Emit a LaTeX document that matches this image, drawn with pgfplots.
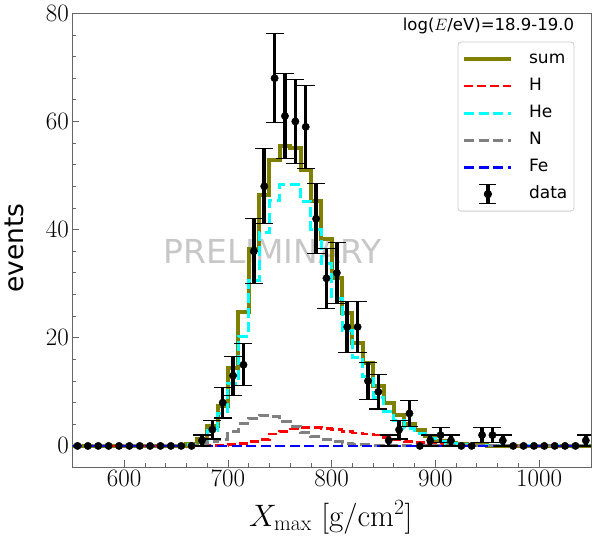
\RequirePackage{fix-cm}
\documentclass[border=0pt]{standalone}
\usepackage{fontspec}
\usepackage{pgfplots}
\pgfplotsset{compat=1.18}
\newfontfamily\dejavu{DejaVu Sans}
\definecolor{olivec}{rgb}{0.5,0.5,0}
\definecolor{grayc}{rgb}{0.5,0.5,0.5}
\definecolor{cyanc}{rgb}{0,1,1}
\definecolor{redc}{rgb}{1,0,0}
\definecolor{bluec}{rgb}{0,0,1}

\pgfplotstableread{
x y
550 0
660 0.3
670 1.2
680 3.65
690 7.3
700 14.5
710 24.85
720 36.4
730 46.4
740 52.9
750 55.5
760 55.0
770 51.1
780 45.2
790 38.2
800 31.0
810 24.6
820 19.1
830 15.3
840 11.0
850 7.85
860 5.8
870 4.1
880 2.9
890 1.75
900 1.0
910 0.55
920 0.35
930 0.15
940 0.1
950 0.05
960 0
1050 0
}\sumtab

\pgfplotstableread{
x y
550 0
680 0.05
690 0.1
700 0.2
710 0.45
720 0.8
730 1.2
740 2.2
750 2.7
760 3.1
770 3.4
780 3.4
790 3.2
800 3.0
810 2.7
820 2.4
830 2.2
840 2.0
850 1.5
860 1.1
870 0.8
880 0.6
890 0.35
900 0.2
910 0.1
920 0.05
930 0
1050 0
}\htab

\pgfplotstableread{
x y
550 0
660 0.2
670 0.7
680 2.8
690 6.0
700 11.6
710 20.3
720 30.5
730 39.5
740 45.3
750 48.3
760 48.3
770 45.2
780 40.0
790 33.8
800 27.2
810 21.4
820 16.4
830 12.9
840 8.9
850 6.3
860 4.7
870 3.3
880 2.3
890 1.4
900 0.8
910 0.45
920 0.3
930 0.15
940 0.1
950 0.05
960 0
1050 0
}\hetab

\pgfplotstableread{
x y
550 0
660 0.1
670 0.5
680 0.8
690 1.2
700 2.7
710 4.1
720 5.1
730 5.7
740 5.4
750 4.5
760 3.6
770 2.5
780 1.8
790 1.2
800 0.8
810 0.5
820 0.3
830 0.2
840 0.1
850 0.05
860 0
1050 0
}\ntab

\pgfplotstableread{
x y
550 0
1050 0
}\fetab

\pgfplotstableread{
x y e
675 1 1
685 3 1.732
695 8 2.828
705 13 3.606
715 15 3.873
725 36 6
735 48 6.928
745 68 8.246
755 61 7.810
765 60 7.746
775 59 7.681
785 42 6.481
795 31 5.568
805 32 5.657
815 22 4.690
825 22 4.690
835 12 3.464
845 10 3.162
855 1 1
865 3 1.732
875 6 2.449
895 1 1
905 2 1.414
915 1 1
945 2 1.414
955 2 1.414
965 1 1
1045 1 1
}\datatab

\pgfplotstableread{
x y
555 0
565 0
575 0
585 0
595 0
605 0
615 0
625 0
635 0
645 0
655 0
665 0
885 0
925 0
935 0
975 0
985 0
995 0
1005 0
1015 0
1025 0
1035 0
}\zerotab

\begin{document}
\begin{tikzpicture}
\begin{axis}[
  scale only axis, width=518.7pt, height=453.7pt,
  xmin=550, xmax=1050, ymin=-3.9, ymax=80,
  xtick={600,700,800,900,1000}, ytick={0,20,40,60,80},
  minor x tick num=4, minor y tick num=4,
  tick align=inside, xtick pos=bottom, ytick pos=left,
  major tick length=7pt, minor tick length=4pt,
  axis line style={black!60, line width=0.9pt},
  every tick/.style={black!60, line width=0.8pt},
  tick label style={font=\fontsize{25}{25}\selectfont},
  /pgf/number format/1000 sep={},
  legend cell align=left,
  legend style={at={(1,1)}, anchor=north east, xshift=-16.7pt, yshift=-28.4pt,
    draw=black!20, line width=0.8pt, rounded corners=3pt, fill=white,
    inner xsep=6.5pt, inner ysep=9pt, /tikz/row sep=11pt, /tikz/column sep=17.7pt,
    font=\dejavu\fontsize{17}{17}\selectfont,
    nodes={inner sep=0pt, text height=12.5pt, text depth=3.5pt}},
  legend image code/.code={\path[use as bounding box, draw=none, fill=none] (0pt,-8pt) rectangle (47pt,8pt);
    \draw[#1, sharp corners] (0pt,0pt) -- (47pt,0pt);},
]
\node[text=black!22, inner sep=0pt, font=\dejavu\fontsize{33}{33}\selectfont] at (axis cs:743,36) {PRELIMINARY};

\addplot[const plot, olivec, line width=4pt] table[x=x,y=y] {\sumtab};
\addplot[const plot, redc, line width=2.7pt, dash pattern=on 9pt off 4pt] table[x=x,y=y] {\htab};
\addplot[const plot, cyanc, line width=3pt, dash pattern=on 10pt off 4.5pt] table[x=x,y=y] {\hetab};
\addplot[const plot, grayc, line width=3pt, dash pattern=on 10pt off 4.5pt] table[x=x,y=y] {\ntab};
\addplot[const plot, bluec, line width=2.8pt, dash pattern=on 10pt off 4.5pt] table[x=x,y=y] {\fetab};

\addplot[only marks, mark=*, mark size=3.7pt, black,
  legend image code/.code={\path[use as bounding box, draw=none, fill=none] (0pt,-8pt) rectangle (47pt,8pt);
    \draw[black, line width=3.5pt, solid, sharp corners] (23.5pt,-9pt) -- (23.5pt,9pt);
    \draw[black, line width=1.2pt, solid, sharp corners] (15pt,-9.5pt) -- (32pt,-9.5pt) (15pt,9.5pt) -- (32pt,9.5pt);
    \fill[black] (23.5pt,0pt) circle (3.7pt);},
  error bars/.cd, y dir=both, y explicit,
  error bar style={line width=3.5pt, black},
  error mark options={rotate=90, black, line width=1.2pt, mark size=9pt},
  ] table[x=x, y=y, y error=e] {\datatab};
\addplot[only marks, mark=*, mark size=3.7pt, black, forget plot] table[x=x,y=y] {\zerotab};

\legend{sum,H,He,N,Fe,data}
\end{axis}
\node[anchor=base east, inner sep=0pt, font=\dejavu\fontsize{16.5}{16.5}\selectfont]
  at ([xshift=-16.7pt,yshift=-17.7pt]current axis.north east) {log($E$/eV)=18.9-19.0};
\node[anchor=base, inner sep=0pt, font=\fontsize{31}{31}\selectfont]
  at ([xshift=-1pt,yshift=-59pt]current axis.south) {$X_{\mathrm{max}}$ [g/cm$^2$]};
\node[anchor=base, rotate=90, inner sep=0pt, font=\dejavu\fontsize{26.5}{26.5}\selectfont]
  at ([xshift=-48.7pt,yshift=-8pt]current axis.west) {events};
\pgfresetboundingbox
\path[use as bounding box] ([xshift=-72.3pt,yshift=-68pt]current axis.south west) rectangle ([xshift=5pt,yshift=13.3pt]current axis.north east);
\end{tikzpicture}
\end{document}
